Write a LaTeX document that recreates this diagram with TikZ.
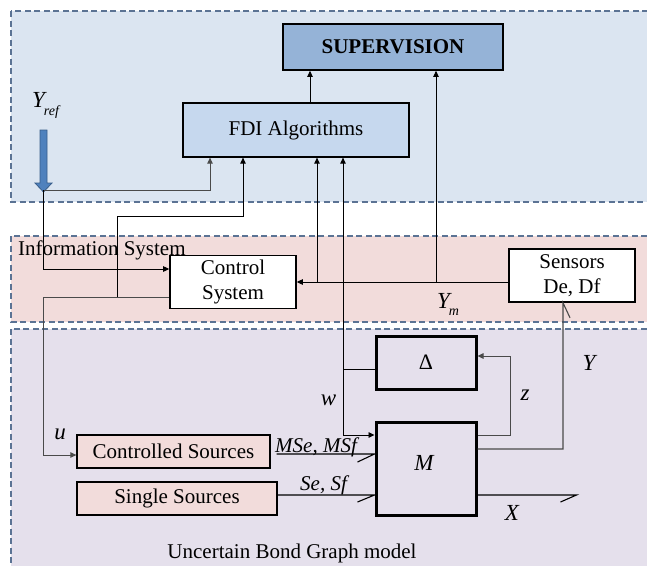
\documentclass[tikz,border=0pt]{standalone}
\usepackage{fontspec}
\setmainfont{Liberation Serif}
\usetikzlibrary{arrows.meta,calc}
\definecolor{pblue}{HTML}{DBE5F1}
\definecolor{ppink}{HTML}{F2DCDB}
\definecolor{plav}{HTML}{E5E0EC}
\definecolor{pedge}{HTML}{5B7394}
\definecolor{supfill}{HTML}{95B3D7}
\definecolor{fdifill}{HTML}{C6D8EE}
\definecolor{arrblue}{HTML}{4F81BD}
\definecolor{arrdark}{HTML}{385D8A}
\definecolor{lgray}{HTML}{4A4A4A}
\begin{document}
\begin{tikzpicture}[x=1pt,y=-1pt,
  panel/.style={draw=pedge, line width=1.4pt, dash pattern=on 6pt off 3.5pt},
  txt/.style={inner sep=0pt, font=\fontsize{21}{26}\selectfont},
  lab/.style={inner sep=0pt, font=\fontsize{23}{26}\selectfont\itshape},
  slab/.style={inner sep=0pt, font=\fontsize{21}{26}\selectfont\itshape},
  blk/.style={draw=black, inner sep=0pt, align=center, font=\fontsize{21}{25.5}\selectfont},
  conn/.style={draw=black, line width=0.9pt},
  arr/.style={conn, -{Triangle[length=6pt,width=5.5pt]}},
  bond/.style={draw=black, line width=1.1pt}
]
\useasboundingbox (0,0) rectangle (647,565);
\clip (0,0) rectangle (647,565);
% panels
\path[panel, fill=pblue] (11,11) rectangle (680,202);
\path[panel, fill=ppink] (11,236) rectangle (680,322);
\path[panel, fill=plav] (11,329) rectangle (680,600);

% blocks
\node[blk, fill=supfill, line width=1.7pt, minimum width=220pt, minimum height=46pt,
      font=\fontsize{21}{26}\selectfont\bfseries] (sup) at (393,47) {SUPERVISION};
\node[blk, fill=fdifill, line width=1.3pt, minimum width=226pt, minimum height=54pt] (fdi) at (296,130) {FDI Algorithms};
\node[blk, fill=white, line width=1.6pt, minimum width=126pt, minimum height=53pt] (ctrl) at (233,282) {Control\\System};
\node[blk, fill=white, line width=1.6pt, minimum width=126pt, minimum height=53pt] (sens) at (572,275.5) {Sensors\\De, Df};
\node[blk, line width=3pt, minimum width=100pt, minimum height=53pt, font=\fontsize{22}{26}\selectfont] (delta) at (426,362.5) {Δ};
\node[blk, line width=3pt, minimum width=100pt, minimum height=93pt] (M) at (426,468.5) {};
\node[blk, fill=ppink, line width=1.3pt, minimum width=193pt, minimum height=33pt] (cs) at (173.5,451.5) {Controlled Sources};
\node[blk, fill=ppink, line width=1.3pt, minimum width=200pt, minimum height=33pt] (ss) at (177,498.5) {Single Sources};

% Yref block arrow
\filldraw[fill=arrblue, draw=arrdark, line width=0.8pt]
  (40,130) -- (47,130) -- (47,183) -- (52,183) -- (43.5,192) -- (35,183) -- (40,183) -- cycle;
\coordinate (yt) at (43.5,190);

% connection coordinates
\coordinate (fa) at ([xshift=-86pt]fdi.south);
\coordinate (fb) at ([xshift=-53pt]fdi.south);
\coordinate (fc) at ([xshift=21pt]fdi.south);
\coordinate (fd) at ([xshift=47pt]fdi.south);
\coordinate (sa) at ([xshift=14pt]fdi.north);
\coordinate (sb) at ([xshift=43pt]sup.south);
\coordinate (co) at ([yshift=-15pt]ctrl.west);
\coordinate (cu) at ([yshift=-3.5pt]cs.west);
\coordinate (br) at (117,297);
\coordinate (bt) at (117,216);
\coordinate (mw) at ([yshift=33.5pt]M.west);
\coordinate (dw) at ([yshift=-6.5pt]delta.west);
\coordinate (ytop) at ([xshift=-9pt]sens.south);
\coordinate (mse) at ([yshift=14.5pt]M.west);
\coordinate (sse) at ([yshift=-26.5pt]M.west);
\coordinate (cse) at ([xshift=6pt]cs.east);

% connectors
\draw[arr] (sa) -- (sa |- sup.south);
\draw[arr, draw=lgray] (yt) -| (fa);
\draw[arr] (yt) |- ([yshift=13pt]ctrl.west);
\draw[arr, draw=lgray] (co) -| (cu -| yt) -- (cu);
\draw[arr] (br) -- (bt) -| (fb);
\draw[arr] (sens.west |- ctrl.east) -- (ctrl.east);
\draw[arr] (fc |- ctrl.east) -- (fc);
\draw[arr] (sb |- ctrl.east) -- (sb);
\draw[arr] (fd |- mw) -- (mw);
\draw[arr] (fd |- mw) -- (fd);
\draw[conn] (dw) -- (dw -| fd);
\draw[arr, draw=lgray] (M.east |- mw) -- ++(33,0) |- ([yshift=6.5pt]delta.east);
\draw[bond, draw=lgray] ([yshift=19.5pt]M.east) -| (ytop) -- ++(7,15);
\draw[bond] (cse |- mse) -- (mse) -- ++(-17,8);
\draw[bond] (ss.east |- sse) -- (sse) -- ++(-17,7);
\draw[bond] (M.east |- sse) -- ++(99,0) coordinate (xe) -- ++(-16,7);

% labels
\node[txt, anchor=base west] (info) at (18,255) {Information System};
\node[txt, anchor=base] (ubg) at (292,558) {Uncertain Bond Graph model};
\node[lab, anchor=base west] (yref) at (32,107) {Y\kern-1pt\raisebox{-8pt}{\fontsize{14}{14}\selectfont ref}};
\node[lab, anchor=base west] (ymlab) at (437,308) {Y\kern-1pt\raisebox{-7pt}{\fontsize{14}{14}\selectfont m}};
\node[lab] (ylab) at (589,363) {Y};
\node[lab] (xlab) at (512,513) {X};
\node[lab] (zlab) at (525,395) {z};
\node[lab] (wlab) at (328.5,400) {w};
\node[lab] (ulab) at (60,434) {u};
\node[lab] (mlab) at (424,463) {M};
\node[slab, anchor=base west] (msel) at (275,452) {MSe, MSf};
\node[slab, anchor=base west] (sel) at (300,490) {Se, Sf};
\end{tikzpicture}
\end{document}
